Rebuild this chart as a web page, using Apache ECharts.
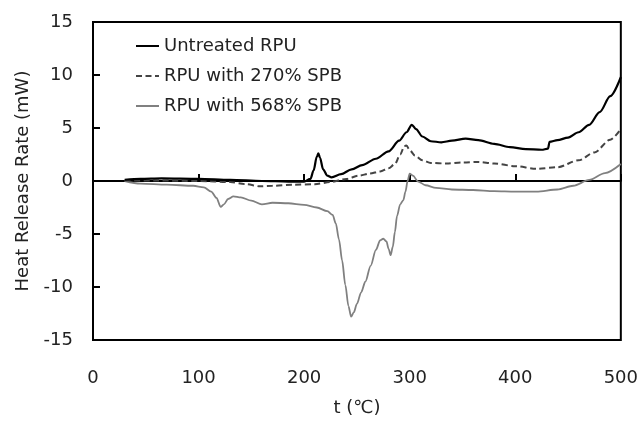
<!DOCTYPE html>
<html>
<head>
<meta charset="utf-8">
<script src="https://cdn.jsdelivr.net/npm/echarts@6/dist/echarts.min.js"></script>
<style>html,body{margin:0;padding:0;background:#fff;}#c{width:641px;height:422px;}</style>
</head>
<body>
<div id="c"></div>
<script>
const seriesNames = ['Untreated RPU', 'RPU with 270% SPB', 'RPU with 568% SPB'];
const xTicks = [0, 100, 200, 300, 400, 500];
const yTicks = [-15, -10, -5, 0, 5, 10, 15];

const untreatedT = [30,45,65,100,130,160,185,200,206,209,212,213.5,215,218,222,226,235,245,255,268,280,290,297,302,306,312,320,330,340,353,365,380,395,410,425,431,432.5,440,450,460,470,480,490,500];
const untreatedV = [0.12,0.2,0.25,0.2,0.1,0.0,-0.05,-0.05,0.2,1.0,2.3,2.6,2.2,1.1,0.5,0.35,0.65,1.1,1.5,2.1,2.8,3.8,4.6,5.3,4.9,4.2,3.75,3.65,3.8,4.0,3.85,3.5,3.2,3.0,2.95,3.05,3.7,3.85,4.1,4.6,5.3,6.5,8.0,9.8];

const spb270T = [30,60,100,130,145,158,170,190,210,225,240,252,262,272,280,286,291,295,297,300,305,312,320,335,350,365,380,400,420,440,460,475,490,500];
const spb270V = [0.05,0.05,0,-0.1,-0.3,-0.5,-0.45,-0.35,-0.3,-0.1,0.2,0.5,0.7,0.9,1.2,1.6,2.5,3.3,3.35,2.9,2.4,1.95,1.7,1.65,1.75,1.8,1.65,1.4,1.15,1.3,1.95,2.7,3.9,4.9];

const spb568T = [30,45,70,95,105,112,117,121,124,128,133,140,150,160,170,185,200,212,222,227,230,233,236,239,242,244.5,247,250,254,258,263,268,272,275,278,280,282,284,286,288,291,294,296,298,300,303,308,315,325,340,360,380,400,420,440,455,470,485,500];
const spb568V = [0,-0.25,-0.35,-0.45,-0.6,-1.0,-1.6,-2.45,-2.2,-1.7,-1.45,-1.55,-1.85,-2.2,-2.05,-2.1,-2.25,-2.5,-2.85,-3.2,-4.0,-5.5,-7.5,-9.8,-11.8,-12.8,-12.4,-11.6,-10.5,-9.5,-8.0,-6.5,-5.6,-5.45,-5.7,-6.4,-7.0,-6.2,-4.8,-3.3,-2.2,-1.8,-1.0,0.0,0.7,0.5,-0.05,-0.4,-0.65,-0.8,-0.85,-0.95,-1.0,-1.0,-0.8,-0.45,0.1,0.75,1.6];

const pairs = (T, V) => T.map((t, i) => [t, V[i]]);
const FONT = 'DejaVu Sans';
const TXT = '#222';

const chart = echarts.init(document.getElementById('c'), null, {renderer: 'canvas'});
chart.setOption({
  animation: false,
  backgroundColor: '#fff',
  grid: {left: 93, right: 18, top: 22, bottom: 75, show: true, borderColor: '#000', borderWidth: 2, backgroundColor: 'transparent'},
  legend: {
    orient: 'vertical', left: 135, top: 36, padding: 0,
    itemWidth: 23, itemHeight: 4, itemGap: 10,
    itemStyle: {opacity: 0},
    textStyle: {fontFamily: FONT, fontSize: 18, color: TXT, lineHeight: 20},
    data: seriesNames
  },
  xAxis: {
    type: 'value', min: xTicks[0], max: xTicks[xTicks.length - 1], interval: 100,
    name: 't (℃)', nameLocation: 'middle', nameGap: 59,
    nameTextStyle: {fontFamily: FONT, fontSize: 18, color: TXT},
    axisLine: {show: true, lineStyle: {color: '#000', width: 2}},
    axisTick: {show: true, inside: true, length: 7, lineStyle: {color: '#000', width: 2}},
    axisLabel: {fontFamily: FONT, fontSize: 18, color: TXT, margin: 29},
    splitLine: {show: false}
  },
  yAxis: {
    type: 'value', min: yTicks[0], max: yTicks[yTicks.length - 1], interval: 5,
    name: 'Heat Release Rate (mW)', nameLocation: 'middle', nameGap: 60, nameRotate: 90,
    nameTextStyle: {fontFamily: FONT, fontSize: 18, color: TXT},
    axisLine: {show: true, lineStyle: {color: '#000', width: 2}},
    axisTick: {show: true, inside: true, length: 7, lineStyle: {color: '#000', width: 2}},
    axisLabel: {fontFamily: FONT, fontSize: 18, color: TXT, margin: 20},
    splitLine: {show: false}
  },
  series: [
    {name: seriesNames[0], type: 'line', data: pairs(untreatedT, untreatedV), showSymbol: false, symbol: 'none', smooth: 0.3, smoothMonotone: 'x',
     lineStyle: {color: '#000', width: 2.2}, itemStyle: {color: '#000'}, z: 4},
    {name: seriesNames[1], type: 'line', data: pairs(spb270T, spb270V), showSymbol: false, symbol: 'none', smooth: 0.3, smoothMonotone: 'x',
     lineStyle: {color: '#444', width: 2, type: [6, 3.5]}, itemStyle: {color: '#444'}, z: 3},
    {name: seriesNames[2], type: 'line', data: pairs(spb568T, spb568V), showSymbol: false, symbol: 'none', smooth: 0.3, smoothMonotone: 'x',
     lineStyle: {color: '#808080', width: 1.8}, itemStyle: {color: '#808080'}, z: 2}
  ]
});
</script>
</body>
</html>
